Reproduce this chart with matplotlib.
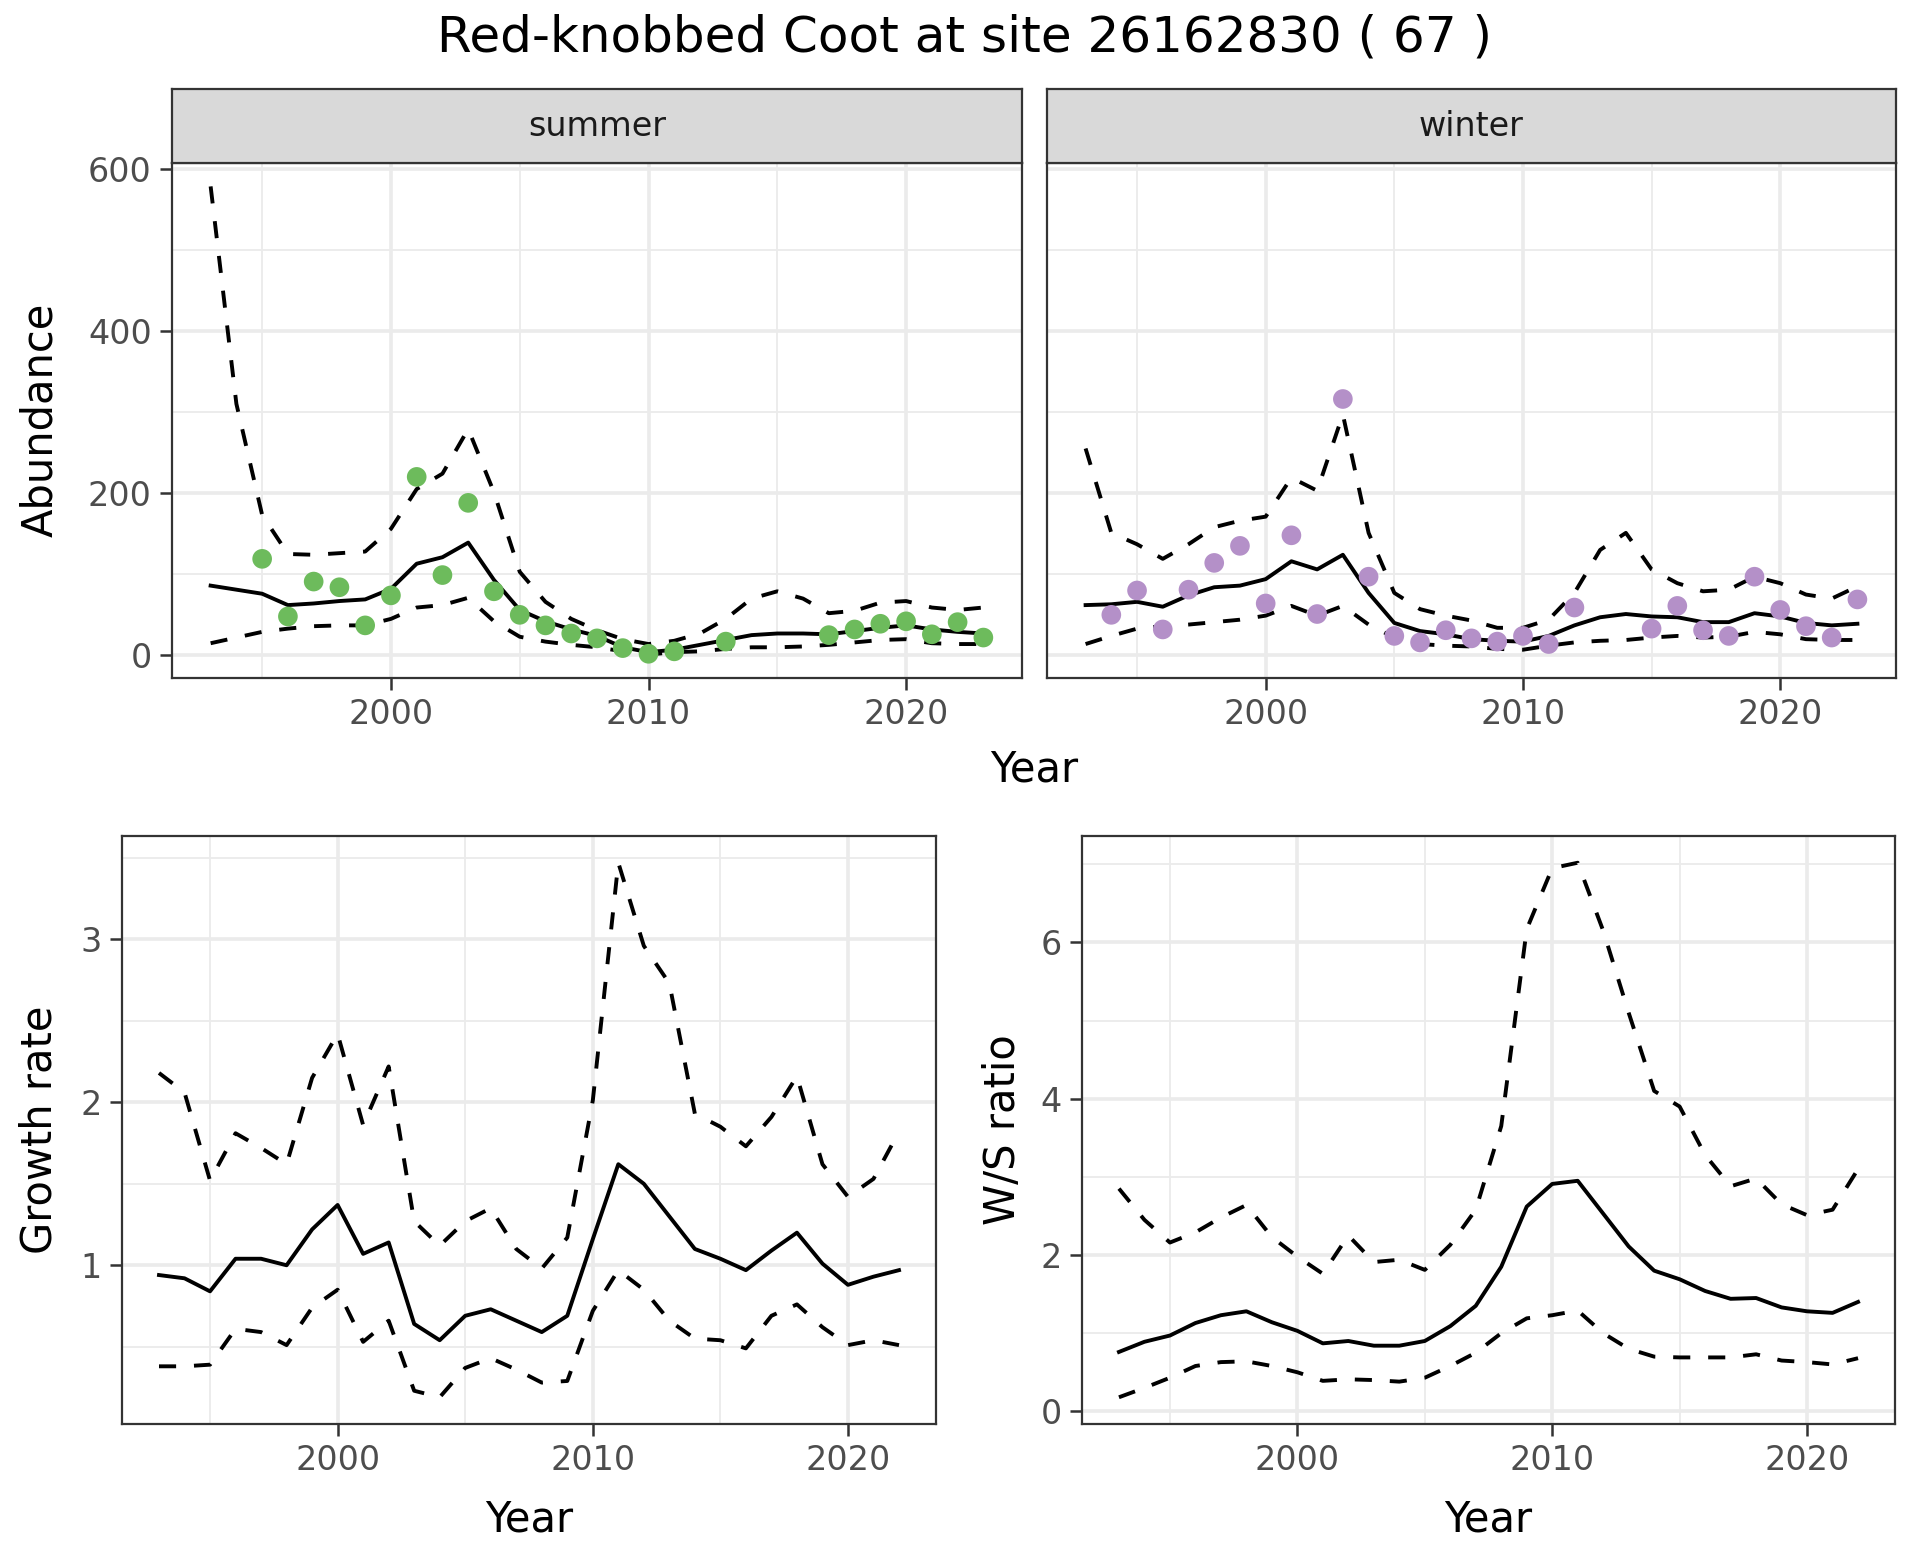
#!/usr/bin/env python3
"""Abundance by season plus growth rate and winter/summer ratio for one site."""
import matplotlib

matplotlib.use("Agg")
import matplotlib.pyplot as plt

W, H, DPI = 1920, 1560, 100
OUT = "out.png"

TITLE = "Red-knobbed Coot at site 26162830 ( 67 )"

# ---- abundance (facet panels) ------------------------------------------------
YEARS = list(range(1993, 2024))

SUMMER_MEAN = [86, 81, 76, 62, 64, 67, 69, 82, 113, 121, 139, 93, 56, 42, 32, 24,
               10, 4, 7, 13, 19, 25, 27, 27, 26, 30, 34, 37, 32, 29, 27]
SUMMER_UPPER = [578, 310, 173, 125, 124, 126, 128, 156, 205, 224, 279, 201, 103, 66, 45, 31,
                20, 14, 18, 27, 45, 70, 79, 70, 52, 55, 65, 67, 59, 56, 59]
SUMMER_LOWER = [15, 22, 29, 33, 36, 37, 37, 45, 59, 62, 71, 42, 23, 17, 13, 10,
                5, 1, 4, 5, 8, 10, 10, 11, 13, 16, 19, 20, 15, 14, 14]
SUMMER_OBS_YEARS = [1995, 1996, 1997, 1998, 1999, 2000, 2001, 2002, 2003, 2004, 2005, 2006,
                    2007, 2008, 2009, 2010, 2011, 2013, 2017, 2018, 2019, 2020, 2021, 2022, 2023]
SUMMER_OBS = [119, 48, 91, 84, 37, 74, 220, 99, 188, 79, 50, 37,
              27, 21, 9, 2, 5, 17, 25, 32, 39, 42, 26, 41, 22]

WINTER_MEAN = [62, 63, 66, 60, 74, 84, 86, 94, 116, 106, 124, 77, 40, 30, 26, 20,
               18, 17, 24, 37, 47, 51, 48, 47, 41, 41, 52, 48, 40, 37, 39]
WINTER_UPPER = [255, 151, 137, 119, 137, 158, 166, 171, 219, 203, 297, 151, 77, 57, 49, 43,
                34, 34, 44, 77, 130, 151, 106, 89, 79, 81, 97, 89, 75, 70, 85]
WINTER_LOWER = [14, 24, 33, 36, 38, 41, 44, 49, 61, 49, 61, 38, 22, 14, 12, 11,
                8, 7, 12, 16, 18, 19, 22, 24, 22, 23, 29, 26, 20, 19, 19]
WINTER_OBS_YEARS = [1994, 1995, 1996, 1997, 1998, 1999, 2000, 2001, 2002, 2003, 2004, 2005,
                    2006, 2007, 2008, 2009, 2010, 2011, 2012, 2015, 2016, 2017, 2018, 2019,
                    2020, 2021, 2022, 2023]
WINTER_OBS = [50, 80, 32, 81, 114, 135, 64, 148, 51, 316, 97, 24,
              16, 31, 21, 17, 24, 14, 59, 33, 61, 31, 24, 97,
              56, 36, 22, 69]

# ---- growth rate and W/S ratio ------------------------------------------------
RATE_YEARS = list(range(1993, 2023))

GROWTH_MEAN = [0.94, 0.92, 0.84, 1.04, 1.04, 1.00, 1.22, 1.37, 1.07, 1.14, 0.64, 0.54, 0.69,
               0.73, 0.66, 0.59, 0.69, 1.16, 1.62, 1.50, 1.30, 1.10, 1.04, 0.97, 1.09, 1.20,
               1.01, 0.88, 0.93, 0.97]
GROWTH_UPPER = [2.18, 2.06, 1.52, 1.81, 1.72, 1.62, 2.15, 2.42, 1.86, 2.22, 1.27, 1.12, 1.27,
                1.35, 1.10, 0.98, 1.17, 2.01, 3.47, 2.96, 2.73, 1.93, 1.85, 1.73, 1.91, 2.16,
                1.62, 1.42, 1.53, 1.82]
GROWTH_LOWER = [0.38, 0.38, 0.39, 0.61, 0.59, 0.51, 0.74, 0.85, 0.53, 0.66, 0.23, 0.19, 0.37,
                0.43, 0.36, 0.28, 0.29, 0.72, 0.97, 0.85, 0.66, 0.55, 0.54, 0.49, 0.69, 0.76,
                0.62, 0.51, 0.54, 0.51]

WS_MEAN = [0.76, 0.89, 0.97, 1.13, 1.23, 1.28, 1.14, 1.03, 0.87, 0.90, 0.84, 0.84, 0.90,
           1.09, 1.35, 1.85, 2.62, 2.91, 2.95, 2.53, 2.11, 1.80, 1.69, 1.54, 1.44, 1.45,
           1.33, 1.28, 1.26, 1.40]
WS_UPPER = [2.85, 2.45, 2.16, 2.29, 2.48, 2.64, 2.23, 1.98, 1.76, 2.25, 1.91, 1.94, 1.81,
            2.13, 2.58, 3.65, 6.17, 6.95, 7.02, 6.15, 5.10, 4.10, 3.90, 3.28, 2.88, 2.98,
            2.65, 2.51, 2.58, 3.10]
WS_LOWER = [0.18, 0.30, 0.43, 0.58, 0.63, 0.64, 0.58, 0.50, 0.39, 0.41, 0.40, 0.38, 0.43,
            0.58, 0.75, 1.00, 1.19, 1.23, 1.29, 1.00, 0.80, 0.70, 0.69, 0.69, 0.69, 0.73,
            0.65, 0.63, 0.60, 0.68]

X_MAJOR = [2000, 2010, 2020]
X_MINOR = [1995, 2005, 2015]

GREEN = "#6DBB5C"
PURPLE = "#B490C8"
GRID = "#EBEBEB"
DARK = "#333333"
TICK_TEXT = "#4D4D4D"

LW = 2.8
DASH = (4.4, 4.6)   # in units of the line width (ggplot "dashed")
TICK_SIZE = 24
TITLE_SIZE = 30


def px_rect(left, top, right, bottom):
    """Axes rectangle from pixel edges (origin top-left)."""
    return [left / W, 1 - bottom / H, (right - left) / W, (bottom - top) / H]


def fig_text(fig, x, y, s, **kw):
    fig.text(x / W, 1 - y / H, s, ha="center", va="center", **kw)


def padded(values, frac=0.05):
    lo, hi = min(values), max(values)
    span = hi - lo
    return lo - frac * span, hi + frac * span


def style_axes(ax, ymajor, yminor, xlim, ylim, ylabels=True):
    ax.set_xticks(X_MAJOR)
    ax.set_xticks(X_MINOR, minor=True)
    ax.set_yticks(ymajor)
    ax.set_yticks(yminor, minor=True)
    ax.set_xlim(*xlim)
    ax.set_ylim(*ylim)
    ax.grid(which="major", color=GRID, linewidth=2.6)
    ax.grid(which="minor", color=GRID, linewidth=1.3)
    ax.set_axisbelow(True)
    for spine in ax.spines.values():
        spine.set_color(DARK)
        spine.set_linewidth(1.6)
    ax.tick_params(which="major", length=8.5, width=1.8, color=DARK,
                   labelsize=TICK_SIZE, labelcolor=TICK_TEXT, pad=6)
    ax.tick_params(which="minor", length=0)
    if not ylabels:
        ax.tick_params(axis="y", which="both", left=False, labelleft=False)


def draw_band(ax, years, mean, upper, lower):
    ax.plot(years, upper, color="black", linewidth=LW, dashes=DASH)
    ax.plot(years, lower, color="black", linewidth=LW, dashes=DASH)
    ax.plot(years, mean, color="black", linewidth=LW)


def add_strip(fig, left, right, label):
    sax = fig.add_axes(px_rect(left, 89, right, 163))
    sax.set_facecolor("#D9D9D9")
    sax.set_xticks([])
    sax.set_yticks([])
    for spine in sax.spines.values():
        spine.set_color(DARK)
        spine.set_linewidth(1.6)
    sax.text(0.5, 0.5, label, transform=sax.transAxes, ha="center", va="center",
             fontsize=TICK_SIZE, color="#1A1A1A")


def main():
    fig = plt.figure(figsize=(W / DPI, H / DPI), dpi=DPI)

    # top row: faceted abundance
    abund_vals = (SUMMER_MEAN + SUMMER_UPPER + SUMMER_LOWER + SUMMER_OBS
                  + WINTER_MEAN + WINTER_UPPER + WINTER_LOWER + WINTER_OBS)
    abund_ylim = padded(abund_vals)
    abund_xlim = padded(YEARS)

    facets = [
        ("summer", 172, 1022, SUMMER_MEAN, SUMMER_UPPER, SUMMER_LOWER,
         SUMMER_OBS_YEARS, SUMMER_OBS, GREEN, True),
        ("winter", 1047, 1896, WINTER_MEAN, WINTER_UPPER, WINTER_LOWER,
         WINTER_OBS_YEARS, WINTER_OBS, PURPLE, False),
    ]
    for name, left, right, mean, upper, lower, oyears, obs, color, ylab in facets:
        ax = fig.add_axes(px_rect(left, 163, right, 678))
        draw_band(ax, YEARS, mean, upper, lower)
        ax.scatter(oyears, obs, s=200, color=color, edgecolors="none", zorder=3)
        style_axes(ax, [0, 200, 400, 600], [100, 300, 500], abund_xlim, abund_ylim, ylab)
        add_strip(fig, left, right, name)

    fig_text(fig, 1034, 769, "Year", fontsize=TITLE_SIZE)
    fig_text(fig, 40, 420, "Abundance", fontsize=TITLE_SIZE, rotation=90)

    # bottom row: growth rate and W/S ratio
    rate_xlim = padded(RATE_YEARS)

    ax = fig.add_axes(px_rect(122, 836, 936, 1424))
    draw_band(ax, RATE_YEARS, GROWTH_MEAN, GROWTH_UPPER, GROWTH_LOWER)
    style_axes(ax, [1, 2, 3], [0.5, 1.5, 2.5, 3.5], rate_xlim,
               padded(GROWTH_MEAN + GROWTH_UPPER + GROWTH_LOWER))
    fig_text(fig, 529, 1520, "Year", fontsize=TITLE_SIZE)
    fig_text(fig, 40, 1130, "Growth rate", fontsize=TITLE_SIZE, rotation=90)

    ax = fig.add_axes(px_rect(1082, 836, 1895, 1424))
    draw_band(ax, RATE_YEARS, WS_MEAN, WS_UPPER, WS_LOWER)
    style_axes(ax, [0, 2, 4, 6], [1, 3, 5, 7], rate_xlim,
               padded(WS_MEAN + WS_UPPER + WS_LOWER))
    fig_text(fig, 1488, 1520, "Year", fontsize=TITLE_SIZE)
    fig_text(fig, 1003, 1130, "W/S ratio", fontsize=TITLE_SIZE, rotation=90)

    fig_text(fig, 965, 37, TITLE, fontsize=36)

    fig.savefig(OUT, dpi=DPI, facecolor="white")
    plt.close(fig)


if __name__ == "__main__":
    main()
